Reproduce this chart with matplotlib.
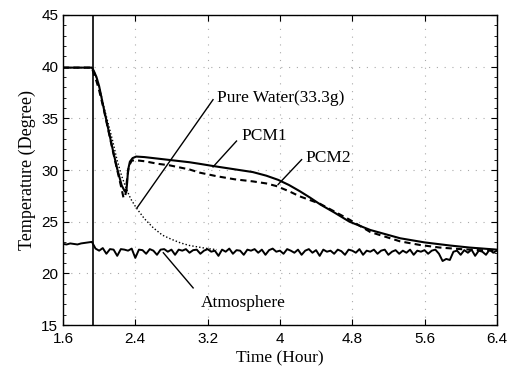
import numpy as np
import matplotlib
matplotlib.use("Agg")
import matplotlib.pyplot as plt

# ---------------- data ----------------
switch_time = 1.93

pcm1_time = [1.60, 1.92, 1.94, 1.97, 2.00, 2.05, 2.10, 2.15, 2.20, 2.25, 2.28, 2.30,
             2.31, 2.32, 2.34, 2.37, 2.41, 2.50, 2.65, 2.80, 3.00, 3.11, 3.25, 3.40,
             3.55, 3.70, 3.85, 3.98, 4.10, 4.22, 4.33, 4.45, 4.60, 4.77, 5.00, 5.33,
             5.60, 5.88, 6.10, 6.40]
pcm1_temp = [39.9, 39.9, 39.6, 39.0, 38.1, 36.0, 34.0, 32.0, 30.1, 28.5, 28.0, 27.85,
             28.8, 30.0, 30.8, 31.15, 31.3, 31.25, 31.1, 30.95, 30.75, 30.6, 30.4, 30.2,
             30.0, 29.8, 29.45, 29.05, 28.55, 27.95, 27.35, 26.65, 25.9, 25.0, 24.2, 23.4,
             23.0, 22.7, 22.5, 22.3]

pcm2_time = [1.60, 1.92, 1.94, 1.97, 2.00, 2.05, 2.10, 2.15, 2.20, 2.24, 2.27, 2.29,
             2.31, 2.33, 2.36, 2.40, 2.50, 2.65, 2.78, 3.00, 3.11, 3.30, 3.50, 3.70,
             3.85, 3.96, 4.10, 4.22, 4.33, 4.44, 4.60, 4.77, 5.00, 5.33, 5.55, 5.77,
             6.00, 6.20, 6.40]
pcm2_temp = [39.9, 39.9, 39.3, 38.6, 37.7, 35.9, 33.9, 31.9, 30.0, 28.5, 27.3, 27.5,
             29.2, 30.4, 30.9, 30.95, 30.85, 30.6, 30.45, 30.05, 29.75, 29.4, 29.1, 28.9,
             28.7, 28.45, 27.95, 27.45, 27.1, 26.75, 26.0, 25.2, 24.0, 23.1, 22.75, 22.5,
             22.35, 22.25, 22.2]

water_time = [1.60, 1.92, 1.95, 2.00, 2.05, 2.10, 2.15, 2.20, 2.25, 2.30, 2.35, 2.41,
              2.50, 2.60, 2.70, 2.80, 2.90, 3.00, 3.10, 3.20, 3.30]
water_temp = [39.9, 39.9, 39.4, 38.1, 36.2, 34.5, 32.8, 30.9, 29.4, 28.2, 27.2, 26.35,
              25.3, 24.4, 23.7, 23.3, 22.95, 22.7, 22.55, 22.4, 22.3]

atm_temp = [22.85, 22.8, 22.9, 22.85, 22.8, 22.9, 22.95, 23.0, 23.05,
            22.4, 22.2, 22.45, 21.9, 22.35, 22.3, 21.7, 22.35, 22.3, 22.2, 22.4, 21.5,
            22.3, 22.25, 21.9, 22.35, 22.2, 21.8, 22.3, 22.35, 22.1, 22.3, 21.8,
            22.3, 22.2, 22.35, 22.0, 22.25, 22.3, 21.9, 22.2, 22.35, 22.1, 22.2,
            21.7, 22.3, 22.1, 22.4, 21.9, 22.25, 22.2, 21.8, 22.3, 22.2, 22.35,
            22.0, 22.3, 21.8, 22.25, 22.4, 22.1, 22.2, 21.9, 22.35, 22.2, 22.0,
            22.3, 21.8, 22.2, 22.35, 22.0, 22.25, 21.7, 22.3, 22.1, 22.2, 21.9,
            22.3, 22.15, 21.8, 22.3, 22.2, 22.0, 22.35, 21.8, 22.2, 22.1, 22.3,
            21.9, 22.2, 22.3, 21.8, 22.1, 22.25, 21.9, 22.2, 22.0, 22.3, 21.8,
            22.2, 22.1, 22.25, 21.9, 22.2, 22.3, 21.9, 21.2, 21.4, 21.3, 22.1,
            22.2, 21.8, 22.25, 22.0, 22.3, 21.7, 22.2, 22.1, 21.8, 22.3, 22.0, 22.2]
atm_time = np.linspace(1.60, 6.40, len(atm_temp))

x_ticks = [1.6, 2.4, 3.2, 4.0, 4.8, 5.6, 6.4]
x_tick_labels = ["1.6", "2.4", "3.2", "4", "4.8", "5.6", "6.4"]
y_ticks = [15, 20, 25, 30, 35, 40, 45]

# annotations: (label, text position, line start, line end)
annotations = [
    ("Pure Water(33.3g)", (3.30, 37.0), (3.26, 36.8), (2.42, 26.35)),
    ("PCM1", (3.58, 33.3), (3.52, 32.8), (3.26, 30.3)),
    ("PCM2", (4.28, 31.2), (4.24, 31.0), (3.98, 28.6)),
    ("Atmosphere", (3.12, 17.15), (3.04, 18.6), (2.71, 22.0)),
]

# ---------------- plot ----------------
serif = "Liberation Serif"
sans = "Liberation Sans"

fig = plt.figure(figsize=(5.08, 3.72), dpi=100)
ax = fig.add_axes([0.124, 0.126, 0.854, 0.834])

ax.plot(atm_time, atm_temp, color="black", lw=1.4, zorder=3)
ax.plot(water_time, water_temp, color="black", lw=1.0, linestyle=(0, (1, 1.5)), zorder=3)
ax.plot(pcm2_time, pcm2_temp, color="black", lw=1.5, linestyle=(0, (3, 2)), zorder=4)
ax.plot(pcm1_time, pcm1_temp, color="black", lw=1.5, zorder=5)
ax.axvline(switch_time, color="black", lw=1.2, zorder=6)

for label, txt, start, end in annotations:
    ax.plot([start[0], end[0]], [start[1], end[1]], color="black", lw=1.0, zorder=6)
    ax.text(txt[0], txt[1], label, ha="left", va="center",
            fontsize=12.5, family=serif, zorder=7)

ax.set_xlim(1.6, 6.4)
ax.set_ylim(15, 45)
ax.set_xticks(x_ticks)
ax.set_xticklabels(x_tick_labels)
ax.set_yticks(y_ticks)
ax.set_yticks(np.arange(15, 46, 1), minor=True)
for lab in ax.get_xticklabels() + ax.get_yticklabels():
    lab.set_fontfamily(sans)
    lab.set_fontsize(11)

ax.tick_params(which="both", direction="in", right=True, top=True)
ax.tick_params(which="major", length=4, width=0.8)
ax.tick_params(which="minor", length=2, width=0.6)
ax.tick_params(axis="x", pad=5)

ax.grid(True, which="major", color="#aaaaaa", linestyle=(0, (1, 6)), lw=0.8)

for sp in ax.spines.values():
    sp.set_linewidth(1.0)
    sp.set_color("black")

ax.set_xlabel("Time (Hour)", fontsize=12.5, family=serif, labelpad=3)
ax.set_ylabel("Temperature (Degree)", fontsize=13, family=serif, labelpad=4)

fig.savefig("out.png", dpi=100)
